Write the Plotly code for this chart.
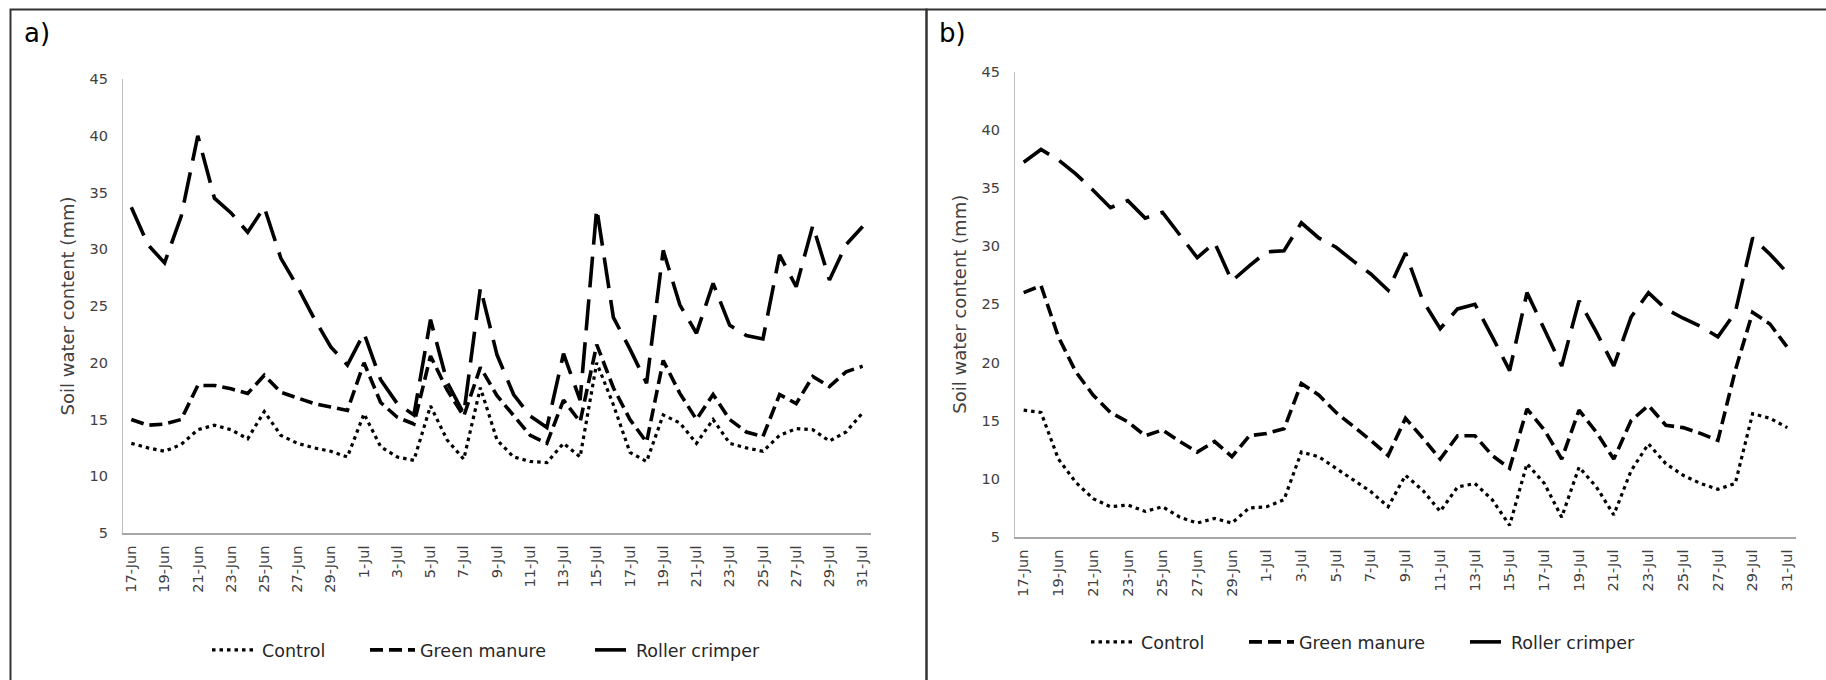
import plotly.graph_objects as go

# ---------------- data ----------------
dates = ["17-Jun", "18-Jun", "19-Jun", "20-Jun", "21-Jun", "22-Jun", "23-Jun", "24-Jun",
         "25-Jun", "26-Jun", "27-Jun", "28-Jun", "29-Jun", "30-Jun",
         "1-Jul", "2-Jul", "3-Jul", "4-Jul", "5-Jul", "6-Jul", "7-Jul", "8-Jul", "9-Jul",
         "10-Jul", "11-Jul", "12-Jul", "13-Jul", "14-Jul", "15-Jul", "16-Jul", "17-Jul",
         "18-Jul", "19-Jul", "20-Jul", "21-Jul", "22-Jul", "23-Jul", "24-Jul", "25-Jul",
         "26-Jul", "27-Jul", "28-Jul", "29-Jul", "30-Jul", "31-Jul"]
tick_labels = ["17-Jun", "19-Jun", "21-Jun", "23-Jun", "25-Jun", "27-Jun", "29-Jun",
               "1-Jul", "3-Jul", "5-Jul", "7-Jul", "9-Jul", "11-Jul", "13-Jul", "15-Jul",
               "17-Jul", "19-Jul", "21-Jul", "23-Jul", "25-Jul", "27-Jul", "29-Jul", "31-Jul"]
y_ticks = [5, 10, 15, 20, 25, 30, 35, 40, 45]

# panel a)
control_a = [12.9, 12.5, 12.2, 12.8, 14.1, 14.5, 14.1, 13.3, 15.7, 13.6, 12.9, 12.5, 12.2, 11.7,
             15.5, 12.6, 11.7, 11.4, 16.2, 13.2, 11.5, 17.8, 13.2, 11.7, 11.3, 11.2, 12.9, 11.7,
             20.0, 16.3, 12.1, 11.3, 15.4, 14.7, 12.9, 15.0, 12.9, 12.5, 12.2, 13.6, 14.2, 14.1,
             13.1, 13.9, 15.6]
green_a = [15.0, 14.5, 14.6, 15.0, 18.0, 18.0, 17.7, 17.3, 18.9, 17.4, 16.9, 16.4, 16.1, 15.8,
           20.0, 16.5, 15.2, 14.6, 20.6, 17.6, 15.3, 19.6, 17.1, 15.3, 13.6, 12.9, 16.7, 14.8,
           21.6, 17.8, 15.0, 13.0, 20.2, 17.3, 15.0, 17.2, 15.0, 13.9, 13.5, 17.2, 16.4, 18.8,
           17.9, 19.2, 19.7]
roller_a = [33.7, 30.4, 28.8, 32.9, 40.0, 34.5, 33.2, 31.5, 33.7, 29.2, 26.7, 23.9, 21.4, 19.8,
            22.6, 18.5, 16.4, 15.4, 23.8, 18.3, 15.5, 26.6, 20.7, 17.2, 15.3, 14.3, 20.8, 16.7,
            33.6, 24.0, 21.2, 18.2, 29.9, 25.1, 22.6, 27.0, 23.3, 22.4, 22.1, 29.5, 26.7, 32.1,
            27.3, 30.4, 32.0]

# panel b)
control_b = [15.9, 15.7, 11.7, 9.7, 8.3, 7.6, 7.75, 7.2, 7.6, 6.7, 6.2, 6.6, 6.2, 7.5, 7.6,
             8.2, 12.3, 11.9, 10.9, 9.9, 8.9, 7.6, 10.3, 9.0, 7.2, 9.3, 9.6, 8.2, 6.0, 11.3,
             9.6, 6.7, 11.0, 9.3, 6.9, 10.7, 13.0, 11.3, 10.3, 9.6, 9.1, 9.6, 15.6, 15.2, 14.4]
green_b = [26.0, 26.6, 22.2, 19.2, 17.2, 15.7, 14.9, 13.7, 14.2, 13.2, 12.3, 13.2, 11.9, 13.7, 13.9,
           14.3, 18.2, 17.2, 15.7, 14.5, 13.3, 12.0, 15.2, 13.5, 11.7, 13.7, 13.7, 12.0, 10.9, 16.0,
           14.2, 11.7, 15.9, 14.0, 11.7, 15.0, 16.3, 14.6, 14.4, 13.9, 13.3, 19.3, 24.3, 23.3, 21.3]
roller_b = [37.2, 38.3, 37.4, 36.2, 34.8, 33.3, 33.9, 32.4, 32.9, 30.9, 29.0, 30.3, 27.0, 28.3, 29.5,
            29.6, 32.0, 30.7, 29.9, 28.7, 27.6, 26.2, 29.4, 25.3, 22.9, 24.6, 25.0, 22.2, 19.3, 26.0,
            22.9, 19.7, 25.3, 22.6, 19.7, 23.9, 26.0, 24.6, 23.8, 23.1, 22.2, 24.3, 30.7, 29.3, 27.7]

series_names = ["Control", "Green manure", "Roller crimper"]

# ---------------- styling ----------------
W, H = 1826, 680
FONT = "DejaVu Sans, Liberation Sans, sans-serif"
TXT = "#404040"
styles = {
    "Control": dict(color="black", width=3.2, dash="3.5px,4px"),
    "Green manure": dict(color="black", width=3.6, dash="13px,6px"),
    "Roller crimper": dict(color="black", width=3.6, dash="31px,12px"),
}
sample_w = {"Control": 45, "Green manure": 45, "Roller crimper": 36}


def px_x(p):
    return p / W


def px_y(p):
    return 1 - p / H


fig = go.Figure()

panels = [
    ("x", "y", [control_a, green_a, roller_a], ["legend", "legend2", "legend3"]),
    ("x2", "y2", [control_b, green_b, roller_b], ["legend4", "legend5", "legend6"]),
]
legend_owner = {}
for xa, ya, vals, legs in panels:
    for name, v, lg in zip(series_names, vals, legs):
        legend_owner[lg] = name
        fig.add_trace(go.Scatter(
            x=dates, y=v, mode="lines", name=name,
            line=styles[name], xaxis=xa, yaxis=ya, legend=lg, showlegend=True,
        ))

common_x = dict(
    type="category", categoryorder="array", categoryarray=dates,
    range=[-0.5, len(dates) - 0.5],
    tickmode="array", tickvals=tick_labels, ticktext=tick_labels,
    tickangle=-90, tickfont=dict(family=FONT, size=14.5, color=TXT),
    showline=True, linecolor="#a6a6a6", linewidth=1.5,
    showgrid=False, zeroline=False, ticks="", fixedrange=True,
    ticklabelstandoff=5, automargin=False,
)
common_y = dict(
    range=[5, 45], tickmode="array", tickvals=y_ticks,
    tickfont=dict(family=FONT, size=14.5, color=TXT),
    showline=True, linecolor="#c0c0c0", linewidth=1.2,
    showgrid=False, zeroline=False, ticks="", ticklabelstandoff=11,
    automargin=False, fixedrange=True,
    title=dict(text="Soil water content (mm)",
               font=dict(family=FONT, size=18, color=TXT), standoff=10),
)

legend_common = dict(
    orientation="h", xanchor="left", yanchor="middle",
    font=dict(family=FONT, size=17.5, color="#262626"),
    bgcolor="rgba(0,0,0,0)", borderwidth=0,
    itemclick=False, itemdoubleclick=False,
)
leg_pos = {
    "legend": (207, 650), "legend2": (365, 650), "legend3": (590, 650),
    "legend4": (1086, 642), "legend5": (1244, 642), "legend6": (1465, 642),
}

layout = dict(
    template="none",
    width=W, height=H,
    margin=dict(l=0, r=0, t=0, b=0, pad=0, autoexpand=False),
    paper_bgcolor="white", plot_bgcolor="white",
    xaxis=dict(common_x, domain=[px_x(123), px_x(871)], anchor="y"),
    yaxis=dict(common_y, domain=[px_y(533), px_y(79)], anchor="x"),
    xaxis2=dict(common_x, domain=[px_x(1015), px_x(1796)], anchor="y2"),
    yaxis2=dict(common_y, domain=[px_y(537), px_y(71.5)], anchor="x2"),
    shapes=[
        dict(type="rect", xref="paper", yref="paper",
             x0=px_x(10.5), x1=px_x(926.5), y0=px_y(700), y1=px_y(9.5),
             line=dict(color="#333333", width=2), fillcolor="rgba(0,0,0,0)"),
        dict(type="rect", xref="paper", yref="paper",
             x0=px_x(926.5), x1=px_x(1840), y0=px_y(700), y1=px_y(9.5),
             line=dict(color="#333333", width=2), fillcolor="rgba(0,0,0,0)"),
    ],
    annotations=[
        dict(text="a)", xref="paper", yref="paper", x=px_x(22), y=px_y(33),
             xanchor="left", yanchor="middle", showarrow=False,
             font=dict(family=FONT, size=26, color="black")),
        dict(text="b)", xref="paper", yref="paper", x=px_x(937), y=px_y(33),
             xanchor="left", yanchor="middle", showarrow=False,
             font=dict(family=FONT, size=26, color="black")),
    ],
)
for k, (lx, ly) in leg_pos.items():
    layout[k] = dict(legend_common, x=px_x(lx), y=px_y(ly),
                     itemwidth=sample_w[legend_owner[k]])

fig.update_layout(**layout)
fig.write_html(
    "out.html",
    config={"displayModeBar": False},
    post_script="document.body.style.margin='0px';document.body.style.overflow='hidden';",
)
